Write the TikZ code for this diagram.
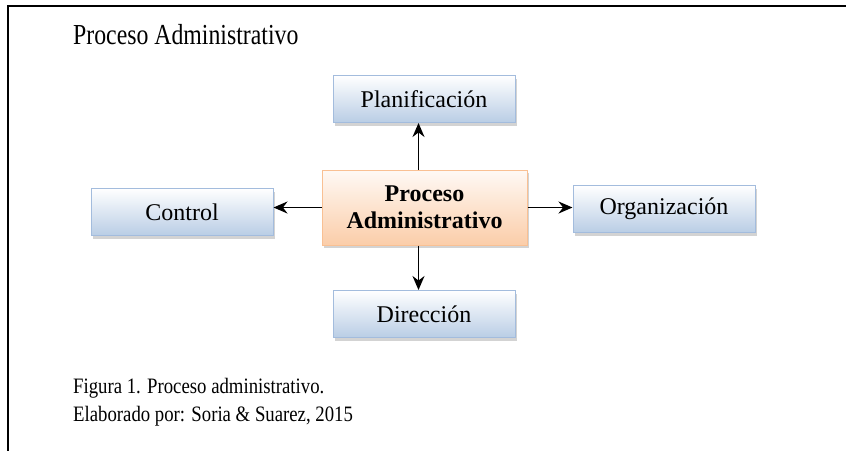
\documentclass[tikz,border=0pt]{standalone}
\usepackage{fontspec}
\setmainfont{Liberation Serif}
\usetikzlibrary{arrows.meta}
\usetikzlibrary{shadows}
\usepackage{xcolor}

\definecolor{stageblue}{HTML}{B9CDE5}
\definecolor{stagebluedraw}{HTML}{A3BCDD}
\definecolor{procorange}{HTML}{FBCDA9}
\definecolor{procorangedraw}{HTML}{F9C093}

\tikzset{
 stagebox/.style={draw=stagebluedraw, line width=1pt, top color=white, bottom color=stageblue,
   minimum width=182pt, minimum height=47pt, inner sep=0pt, font=\fontsize{24}{28}\selectfont,
   drop shadow={shadow xshift=1.5pt, shadow yshift=-3pt, opacity=.35}},
 procbox/.style={draw=procorangedraw, line width=1pt, top color=white!60!procorange!30, bottom color=procorange,
   minimum width=205pt, minimum height=75pt, inner sep=0pt, align=center,
   font=\bfseries\fontsize{24}{27}\selectfont,
   drop shadow={shadow xshift=1.5pt, shadow yshift=-3pt, opacity=.35}},
 plaintext/.style={anchor=base west, inner sep=0pt, xscale=.82, transform shape},
 link/.style={black, line width=1.7pt, ->, >={Stealth[length=14pt,width=12pt]}}
}

\begin{document}
\begin{tikzpicture}[x=1pt, y=-1pt]
\useasboundingbox (0,0) rectangle (846,451);
\draw[black, line width=2pt] (846,6) -- (8,6) -- (8,451);
\node[plaintext, font=\fontsize{29}{34}\selectfont] (title) at (73,44) {Proceso Administrativo};
% boxes
\node[procbox] (proc) at (424.5,207.5) {Proceso\\Administrativo};
\node[stagebox] (plan) at (424,99) {Planificación};
\node[stagebox] (ctrl) at (182,212) {Control};
\node[stagebox] (org) at (664,209) {Organización};
\node[stagebox] (dir) at (424,314) {Dirección};
% arrows
\foreach \s/\t in {north/plan.south, south/dir.north}
 \draw[link] ([xshift=-6pt]proc.\s) -- ([xshift=-6pt]proc.\s |- \t);
\foreach \s/\t in {west/ctrl.east, east/org.west}
 \draw[link] (proc.\s) -- (proc.\s -| \t);
% caption
\node[plaintext, xscale=1.04, font=\fontsize{22}{26}\selectfont] (fig) at (73,393) {Figura 1. Proceso administrativo.};
\node[plaintext, xscale=1.04, font=\fontsize{22}{26}\selectfont] (src) at (73,421) {Elaborado por: Soria \& Suarez, 2015};
\end{tikzpicture}
\end{document}
